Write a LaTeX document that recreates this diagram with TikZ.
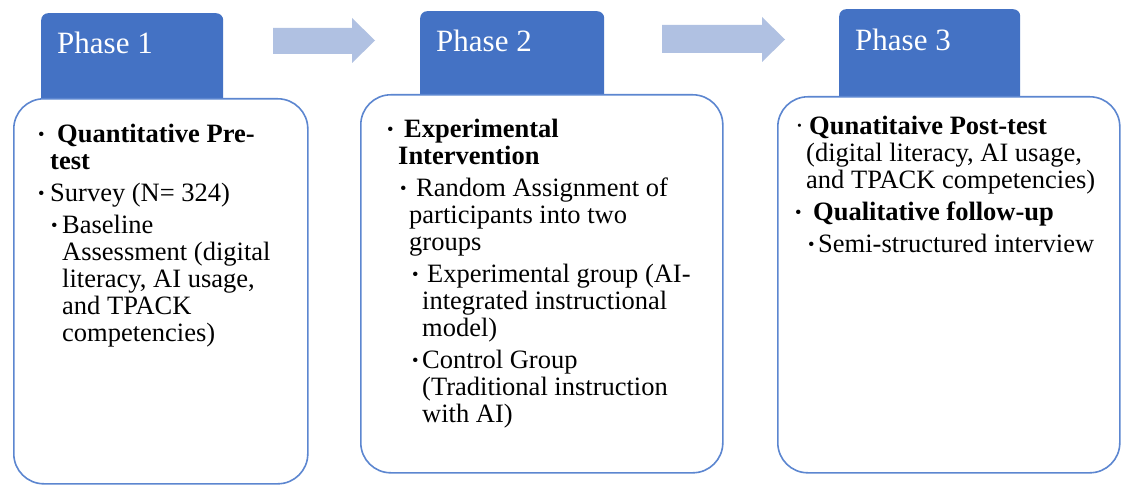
\documentclass[tikz,border=0pt]{standalone}
\usepackage{fontspec}
\setmainfont{Liberation Serif}
\usepackage{xcolor}
\usepackage{graphicx}
\usetikzlibrary{positioning}
\definecolor{tabblue}{RGB}{68,114,196}
\definecolor{boxline}{RGB}{92,134,208}
\definecolor{arrowblue}{RGB}{176,193,226}
\newcommand{\bl}[1]{\makebox[#1][l]{\raisebox{2.4pt}{\scalebox{0.7}{\textbullet}}}}

\begin{document}
\begin{tikzpicture}[x=1pt,y=-1pt,
  tabnode/.style={fill=tabblue,rounded corners=7pt,inner sep=0pt,anchor=north west},
  phasebox/.style={draw=boxline,line width=1.6pt,fill=white,rounded corners=30pt,inner sep=0pt,anchor=north west},
  phasetitle/.style={text=white,font=\fontsize{31}{31}\selectfont,inner sep=0pt,anchor=base west},
  bodytext/.style={inner sep=0pt,anchor=base west,font=\fontsize{26.5}{27}\selectfont},
  flow/.style={fill=arrowblue}]
\useasboundingbox (0,0) rectangle (1121,486);
\fill[white] (0,0) rectangle (1121,486);
% tabs behind the boxes
\node[tabnode,minimum width=182pt,minimum height=95pt] (tab1) at (41,13) {};
\node[tabnode,minimum width=184pt,minimum height=93pt] (tab2) at (420,11) {};
\node[tabnode,minimum width=181pt,minimum height=97pt] (tab3) at (839,9) {};
\node[phasetitle] (title1) at (57,54) {Phase 1};
\node[phasetitle] (title2) at (436,52) {Phase 2};
\node[phasetitle] (title3) at (855,51) {Phase 3};
% boxes
\node[phasebox,minimum width=294pt,minimum height=385pt] (box1) at (13,98) {};
\node[phasebox,minimum width=362pt,minimum height=378pt] (box2) at (360,94) {};
\node[phasebox,minimum width=342pt,minimum height=376pt] (box3) at (777,96) {};
% arrows
\fill[flow] (273,28) -- (352,28) -- (352,18) -- (375,40.5) -- (352,63) -- (352,54) -- (273,54) -- cycle;
\fill[flow] (662,25) -- (762,25) -- (762,17) -- (785,39.5) -- (762,62) -- (762,53) -- (662,53) -- cycle;
% texts
\node[bodytext] (text1) at (38,143) {\parbox[t]{280pt}{%
  \bl{19pt}\textbf{Quantitative Pre-}\\
  \hspace*{12pt}\textbf{test}\\[5pt]
  \bl{12pt}Survey (N= 324)\\[5pt]
  \hspace*{13pt}\bl{11pt}Baseline\\
  \hspace*{24pt}Assessment (digital\\
  \hspace*{24pt}literacy, AI usage,\\
  \hspace*{24pt}and TPACK\\
  \hspace*{24pt}competencies)}};
\node[bodytext] (text2) at (387,138) {\parbox[t]{330pt}{%
  \bl{17pt}\textbf{Experimental}\\
  \hspace*{11pt}\textbf{Intervention}\\[5pt]
  \hspace*{13pt}\bl{16pt}Random Assignment of\\
  \hspace*{22pt}participants into two\\
  \hspace*{22pt}groups\\[5pt]
  \hspace*{25pt}\bl{15pt}Experimental group (AI-\\
  \hspace*{35pt}integrated instructional\\
  \hspace*{35pt}model)\\[5pt]
  \hspace*{25pt}\bl{10pt}Control Group\\
  \hspace*{35pt}(Traditional instruction\\
  \hspace*{35pt}with AI)}};
\node[bodytext] (text3) at (795,135) {\parbox[t]{320pt}{%
  \makebox[14pt][l]{·}\textbf{Qunatitaive Post-test}\\
  \hspace*{11pt}(digital literacy, AI usage,\\
  \hspace*{11pt}and TPACK competencies)\\[5pt]
  \bl{18pt}\textbf{Qualitative follow-up}\\[5pt]
  \hspace*{13pt}\bl{10pt}Semi-structured interview}};
\end{tikzpicture}
\end{document}
